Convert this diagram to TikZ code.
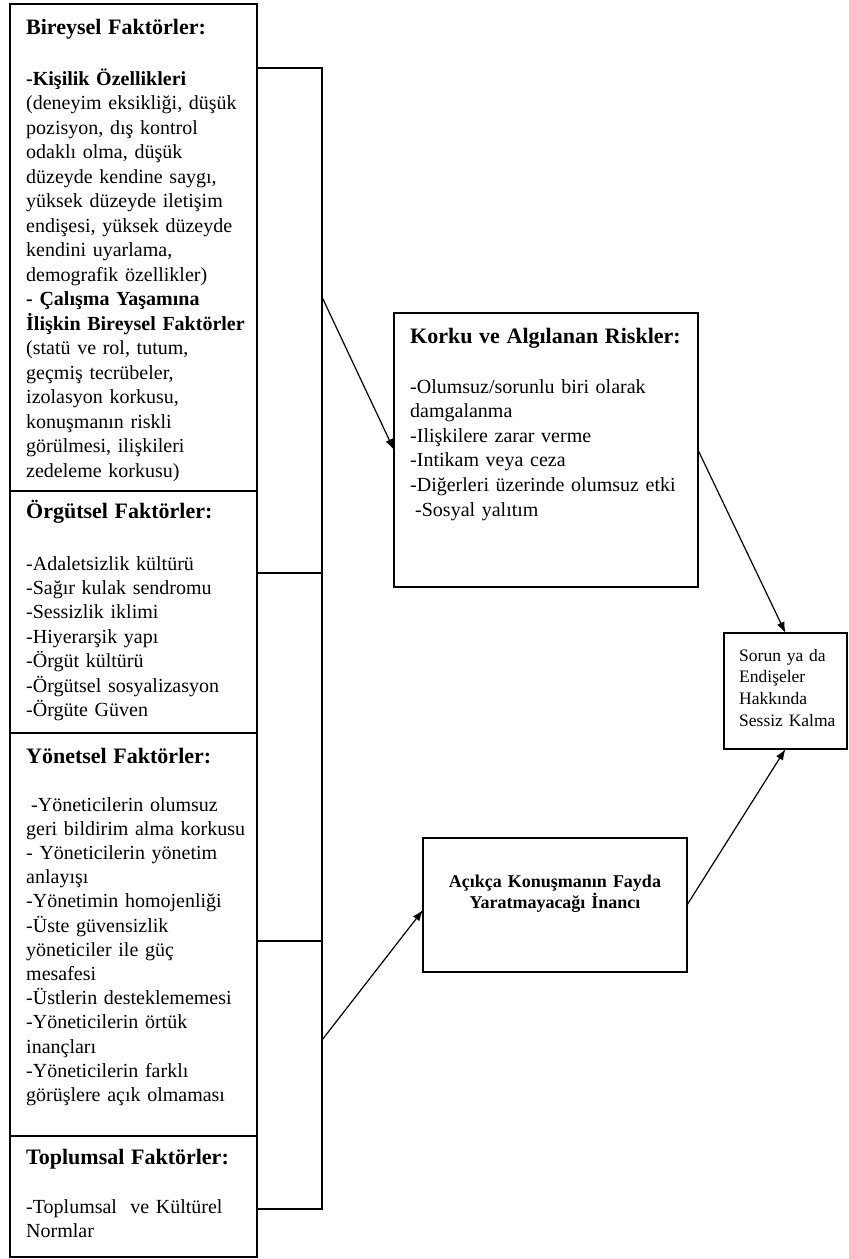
\documentclass[tikz,border=0pt]{standalone}
\usepackage{fontspec}
\setmainfont{Liberation Serif}
\usetikzlibrary{arrows.meta,positioning,calc}
\tikzset{
  % Kutu: yalnizca cerceve, metin ayri bir node olarak ustune konur
  kutu/.style={draw=black, line width=1.6pt, fill=white,
    inner sep=0pt, outer sep=0pt, anchor=north west},
  % Kutu icindeki metin: ilk satirin taban cizgisine gore yerlesir
  metin/.style={anchor=base west, inner sep=0pt, align=left, text width=#1},
  metin/.default=228pt,
  hat/.style={draw=black, line width=1.4pt},
  ok/.style={draw=black, line width=1.2pt, -{Latex[length=11pt,width=8pt]}},
}
\newcommand{\baslik}[1]{{\bfseries\fontsize{22}{22}\selectfont #1}}
\newcommand{\govde}[1]{\fontsize{20}{#1}\selectfont}
\newcommand{\cerceve}[4]{%
  \node[kutu, minimum width=#3pt, minimum height=#4pt] (#1) at (#2) {};}

\begin{document}
\begin{tikzpicture}[x=1pt,y=-1pt]
\useasboundingbox (0,0) rectangle (849,1259);

% ----- sol sutun: faktor kutulari -----
\cerceve{bireysel}{10,4}{247}{487}
\cerceve{orgutsel}{10,491}{247}{242}
\cerceve{yonetsel}{10,733}{247}{403}
\cerceve{toplumsal}{10,1136}{247}{121}

\node[metin, font=\govde{24.5}] (bireyselT) at (26,34) {%
  \baslik{Bireysel Faktörler:}\\[26.5pt]
  \textbf{-Kişilik Özellikleri}\\
  (deneyim eksikliği, düşük\\
  pozisyon, dış kontrol\\
  odaklı olma, düşük\\
  düzeyde kendine saygı,\\
  yüksek düzeyde iletişim\\
  endişesi, yüksek düzeyde\\
  kendini uyarlama,\\
  demografik özellikler)\\
  \textbf{- Çalışma Yaşamına}\\
  \textbf{İlişkin Bireysel Faktörler}\\
  (statü ve rol, tutum,\\
  geçmiş tecrübeler,\\
  izolasyon korkusu,\\
  konuşmanın riskli\\
  görülmesi, ilişkileri\\
  zedeleme korkusu)};

\node[metin, font=\govde{24.4}] (orgutselT) at (26,518) {%
  \baslik{Örgütsel Faktörler:}\\[27.6pt]
  -Adaletsizlik kültürü\\
  -Sağır kulak sendromu\\
  -Sessizlik iklimi\\
  -Hiyerarşik yapı\\
  -Örgüt kültürü\\
  -Örgütsel sosyalizasyon\\
  -Örgüte Güven};

\node[metin, font=\govde{24.2}] (yonetselT) at (26,763) {%
  \baslik{Yönetsel Faktörler:}\\[23.8pt]
  \hspace*{5pt}-Yöneticilerin olumsuz\\
  geri bildirim alma korkusu\\
  - Yöneticilerin yönetim\\
  anlayışı\\
  -Yönetimin homojenliği\\
  -Üste güvensizlik\\
  yöneticiler ile güç\\
  mesafesi\\
  -Üstlerin desteklememesi\\
  -Yöneticilerin örtük\\
  inançları\\
  -Yöneticilerin farklı\\
  görüşlere açık olmaması};

\node[metin, font=\govde{24}] (toplumselT) at (26,1164) {%
  \baslik{Toplumsal Faktörler:}\\[25pt]
  -Toplumsal \ ve Kültürel\\
  Normlar};

% ----- sag sutun -----
\cerceve{korku}{394,313}{304}{274}
\cerceve{acikca}{423,838}{264}{134}
\cerceve{sorun}{724,633}{123}{116}

\node[metin=280pt, font=\govde{24.6}] (korkuT) at (410,343) {%
  \baslik{Korku ve Algılanan Riskler:}\\[25.4pt]
  -Olumsuz/sorunlu biri olarak\\
  damgalanma\\
  -Ilişkilere zarar verme\\
  -Intikam veya ceza\\
  -Diğerleri üzerinde olumsuz etki\\
  \hspace*{5pt}-Sosyal yalıtım};

\node[anchor=base, inner sep=0pt, align=center, text width=250pt,
      font=\bfseries\fontsize{18}{21}\selectfont] (acikcaT) at (555,887)
  {Açıkça Konuşmanın Fayda\\ Yaratmayacağı İnancı};

\node[metin=105pt, font=\fontsize{17.5}{21.7}\selectfont] (sorunT) at (739,661)
  {Sorun ya da\\ Endişeler\\ Hakkında\\ Sessiz Kalma};

% ----- sol kutulari toplayan cizgi -----
\coordinate (k1) at (322,68);
\coordinate (k2) at (322,573);
\coordinate (k3) at (322,941);
\coordinate (k4) at (322,1209);
\coordinate (k5) at (322,297);
\coordinate (k6) at (322,1040);
\draw[hat] (bireysel.east |- k1) -- (k1) -- (k4) -- (toplumsal.east |- k4);
\draw[hat] (orgutsel.east |- k2) -- (k2);
\draw[hat] (yonetsel.east |- k3) -- (k3);

% ----- oklar -----
\draw[ok] (k5) -- (korku.west);
\draw[ok] (k6) -- ([yshift=-5pt]acikca.west);
\draw[ok] (korku.east) -- (sorun.north);
\draw[ok] (acikca.east) -- (sorun.south);

\end{tikzpicture}
\end{document}
